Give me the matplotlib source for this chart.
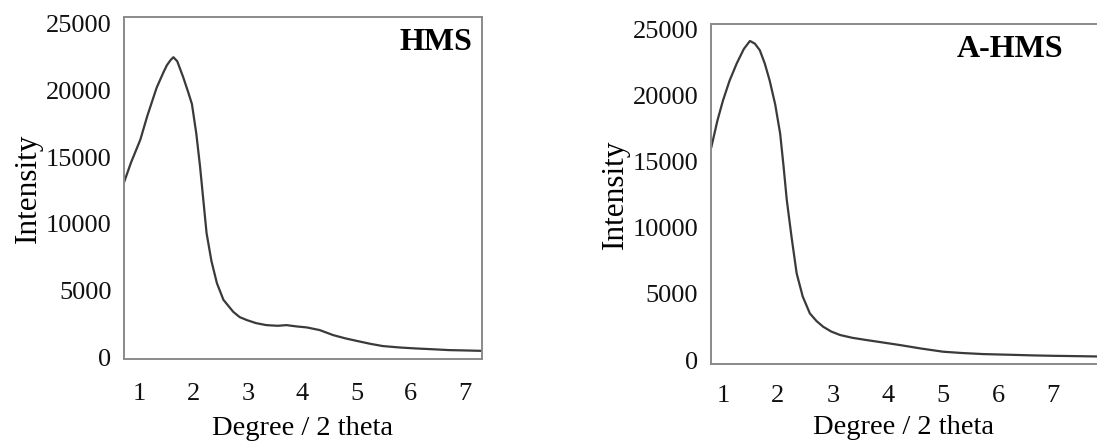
import matplotlib
matplotlib.use("Agg")
import matplotlib.pyplot as plt

plt.rcParams['font.family'] = ['Liberation Serif', 'DejaVu Serif']

# HMS pattern
hms_x = [0.72, 0.85, 1.02, 1.15, 1.32, 1.45, 1.51, 1.58, 1.63, 1.70, 1.81, 1.90, 1.97,
         2.05, 2.12, 2.18, 2.24, 2.33, 2.43, 2.55, 2.73, 2.85, 2.98, 3.15, 3.34, 3.55,
         3.71, 3.90, 4.08, 4.32, 4.57, 4.80, 5.00, 5.25, 5.48, 5.80, 6.09, 6.40, 6.71, 7.00, 7.30]
hms_y = [13100, 14600, 16300, 18100, 20200, 21400, 21900, 22300, 22500, 22200, 21000, 19900, 19000,
         16800, 14300, 11800, 9300, 7200, 5550, 4300, 3400, 3000, 2780, 2550, 2400, 2350,
         2400, 2300, 2230, 2030, 1650, 1400, 1220, 1000, 830, 720, 650, 590, 525, 500, 470]

# A-HMS pattern
ahms_x = [0.79, 0.90, 1.00, 1.12, 1.25, 1.38, 1.49, 1.58, 1.67, 1.76, 1.85, 1.95, 2.04,
          2.10, 2.16, 2.25, 2.34, 2.45, 2.58, 2.70, 2.82, 2.97, 3.13, 3.35, 3.61, 3.90,
          4.22, 4.60, 5.00, 5.35, 5.73, 6.20, 6.64, 7.00, 7.34, 7.80]
ahms_y = [16100, 18100, 19600, 21100, 22400, 23500, 24100, 23900, 23400, 22400, 21100, 19300, 17100,
          14700, 12100, 9200, 6540, 4800, 3520, 2950, 2520, 2150, 1890, 1680, 1510, 1330,
          1130, 870, 630, 530, 450, 400, 350, 320, 300, 270]

xticks = [1, 2, 3, 4, 5, 6, 7]
yticks = [0, 5000, 10000, 15000, 20000, 25000]

fig = plt.figure(figsize=(10.97, 4.45), dpi=100)

# rect, x, y, name, xlim, ylim, label x, xtick pad, xlabel pad
panels = [
    ([0.113, 0.193, 0.326, 0.769], hms_x, hms_y, "HMS", (0.72, 7.30), (-150, 25525), 0.975, 17, 8),
    ([0.648, 0.182, 0.352, 0.764], ahms_x, ahms_y, "A-HMS", (0.78, 7.80), (-300, 25380), 0.912, 15, 6),
]

for rect, xs, ys, name, xl, yl, tx, xpad, lpad in panels:
    ax = fig.add_axes(rect)
    ax.plot(xs, ys, color="#3a3a3a", lw=1.6)
    ax.set_xlim(*xl)
    ax.set_ylim(*yl)
    ax.set_xticks(xticks)
    ax.set_yticks(yticks)
    ax.tick_params(length=0, labelsize=19, colors="#111111")
    ax.tick_params(axis="y", pad=9)
    ax.tick_params(axis="x", pad=xpad)
    for s in ax.spines.values():
        s.set_color("#8a8a8a")
        s.set_linewidth(1.4)
    ax.set_ylabel("Intensity", fontsize=22.5, labelpad=2)
    ax.set_xlabel("Degree / 2 theta", fontsize=20.5, labelpad=lpad)
    if name == "A-HMS":
        ax.spines["right"].set_visible(False)
    ax.text(tx, 0.925, name, transform=ax.transAxes, ha="right", va="center",
            fontsize=23, fontweight="bold")

fig.savefig("out.png", dpi=100)
